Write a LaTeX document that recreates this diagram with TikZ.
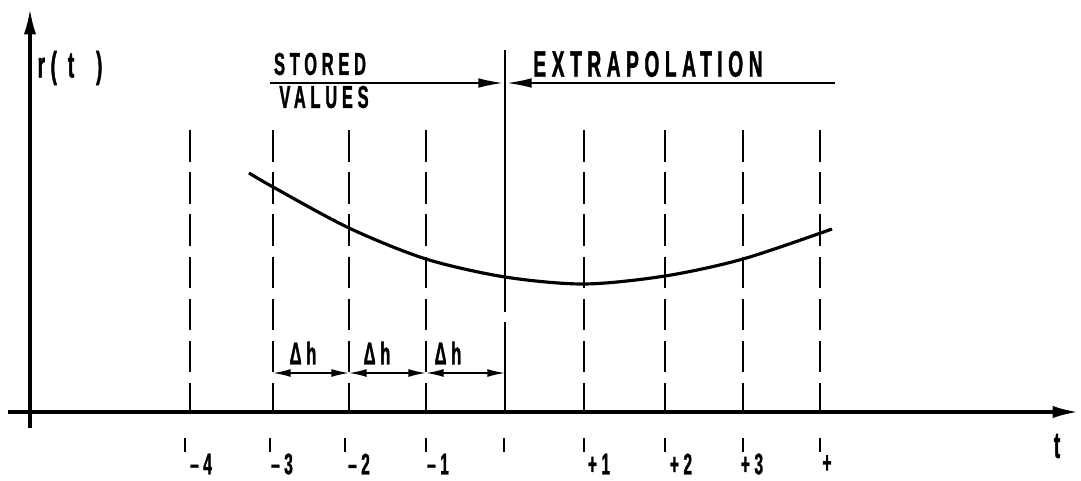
\documentclass[tikz,border=0pt]{standalone}
\usepackage{fontspec}
\setmainfont{Liberation Sans}[FakeStretch=0.52,LetterSpace=15,FakeBold=1]
\usetikzlibrary{arrows.meta,calc}
\begin{document}
\begin{tikzpicture}[x=0.02cm, y=-0.02cm,
    every node/.style={inner sep=0pt},
    lbl/.style={font=\bfseries\fontsize{18}{20}\selectfont},
    numlbl/.style={font=\bfseries\fontsize{17}{19}\selectfont},
    biglbl/.style={font=\bfseries\fontsize{21}{23}\selectfont},
    gridline/.style={line width=1.4pt, dash pattern=on 18pt off 6pt},
    axis/.style={line width=2.1pt, -{Latex[length=15pt,width=7pt]}},
    span/.style={line width=0.9pt, {Latex[length=10pt,width=4.5pt]}-{Latex[length=10pt,width=4.5pt]}},
    head/.style={line width=1pt, -{Latex[length=14pt,width=5.5pt]}}]
    \useasboundingbox(0,0)rectangle(1081,480);
    % axes
    \coordinate(O)at(30,412);
    \coordinate(xstart)at(8,412);
    \coordinate(ystart)at(30,428);
    \coordinate(tend)at(1079,412);
    \coordinate(rend)at(30,8);
    \path[draw, axis](xstart)to(tend);
    \path[draw, axis](ystart)to(rend);
    \node[biglbl](r)at(70,68){r( t \ )};
    \node[biglbl](t)at(1057,446){t};
    % grid lines
    \foreach \x/\n in {190/a,273/b,349/c,426/d,584/f,665/g,743/h,820/i}{
        \coordinate(top\n)at(\x,130);
        \coordinate(bot\n)at(\x,410);
        \path[draw, gridline](top\n)to(bot\n);
    }
    % present time
    \coordinate(now)at(505,50);
    \coordinate(nowmid)at(505,280);
    \coordinate(nowlow)at(505,352);
    \coordinate(nowbot)at(505,410);
    \path[draw, line width=1.3pt](now)to(nowmid);
    \path[draw, gridline](nowmid)to(nowlow);
    \path[draw, line width=1.3pt](nowlow)to(nowbot);
    % r(t) curve
    \path[draw, line width=1.8pt] plot[smooth] coordinates{(249,173)(273,187)(349,228)(426,259)(505,277)(584,284)(665,276)(743,259)(832,229)};
    % header
    \coordinate(hl)at(270,83);
    \coordinate(hr)at(835,83);
    \coordinate(hml)at(503,83);
    \coordinate(hmr)at(507,83);
    \path[draw, head](hl)to(hml);
    \path[draw, head](hr)to(hmr);
    \node[lbl](stored)at(320,64){STORED};
    \node[lbl](values)at(324,97){VALUES};
    \node[biglbl](extra)at(648,64){EXTRAPOLATION};
    % step widths
    \foreach \a/\b/\m [count=\i] in {273/349/303, 349/426/377, 426/505/448}{
        \coordinate(sl\i)at(\a,373);
        \coordinate(sr\i)at(\b,373);
        \path[draw, span](sl\i)to(sr\i);
        \node[lbl](dh\i)at(\m,353){Δh};
    }
    % time labels
    \foreach \x/\l/\lx in {185/–4/201, 270/–3/282, 345/–2/359, 426/–1/438, 584/+1/599, 665/+2/681, 743/+3/752, 820/+/827}{
        \coordinate(tk\x)at(\x,438);
        \path[draw, line width=1.5pt](tk\x)to($(tk\x)+(0,14)$);
        \node[numlbl](lab\x)at(\lx,464){\l};
    }
    \coordinate(tknow)at(504,438);
    \path[draw, line width=1.5pt](tknow)to($(tknow)+(0,14)$);
\end{tikzpicture}
\end{document}
